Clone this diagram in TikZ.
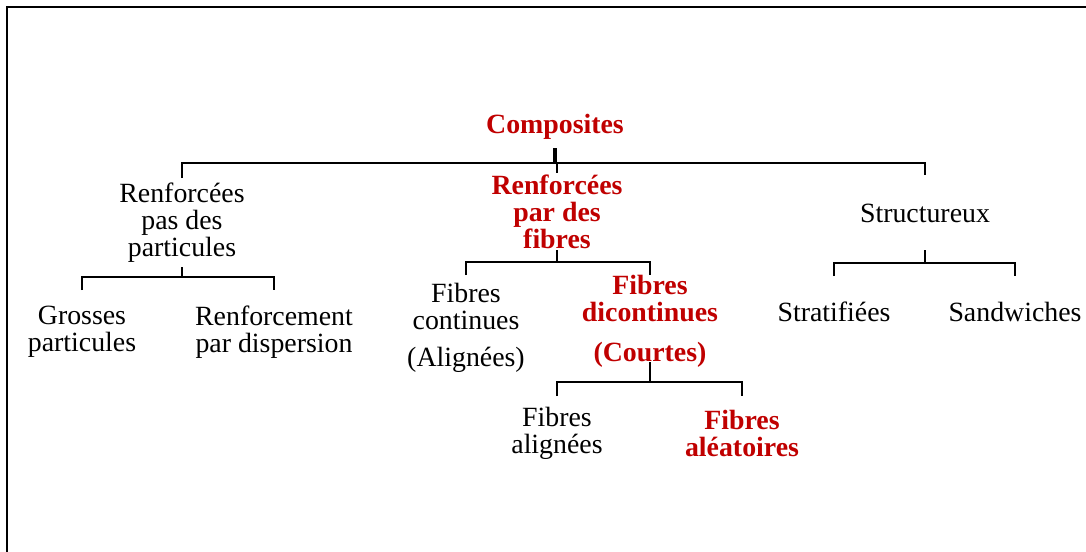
\documentclass[tikz,border=0pt]{standalone}
\usepackage{fontspec}
\setmainfont{Liberation Serif}
\usepackage{tikz}
\usetikzlibrary{positioning}
\definecolor{deepred}{RGB}{192,0,0}
\tikzset{
  item/.style={align=center,inner sep=0pt,font=\fontsize{19.8}{19.2}\selectfont},
  keyitem/.style={item,text=deepred,font=\fontsize{19.8}{19.2}\selectfont\bfseries},
  link/.style={draw=black,line width=1.4pt},
  stem/.style={draw=black,line width=2.6pt},
  frame/.style={draw=black,line width=1.6pt}
}

\begin{document}
\begin{tikzpicture}[x=0.025cm,y=-0.025cm]
  \useasboundingbox (0,0) rectangle (1086,552);
  \draw[frame] (7,552) -- (7,7) -- (1086,7);

  % first level
  \node[keyitem] (comp) at (555,127) {Composites};
  \node[item] (rpart) at (182,223) {Renforcées\\pas des\\particules};
  \node[keyitem] (rfib) at (557,212) {Renforcées\\par des\\fibres};
  \node[item] (struct) at (925,213) {Structureux};

  % particules
  \node[item] (gros) at (82,332) {Grosses\\particules};
  \node[item] (disp) at (274,332) {Renforcement\\par dispersion};

  % fibres
  \node[item] (fcont) at (466,328) {Fibres\\continues\\[7pt](Alignées)};
  \node[keyitem] (fdisc) at (650,321) {Fibres\\dicontinues\\[9pt](Courtes)};
  \node[item] (fali) at (557,433) {Fibres\\alignées};
  \node[keyitem] (falea) at (742,433) {Fibres\\aléatoires};

  % structures
  \node[item] (strat) at (834,312) {Stratifiées};
  \node[item] (sand) at (1015,312) {Sandwiches};

  % brackets
  \coordinate (b0) at (555,163);
  \draw[stem] (comp) ++(0,21) -- (b0);
  \draw[link] (rpart) ++(0,-45) |- (struct |- b0) -- ++(0,12);
  \draw[link] (rfib |- b0) -- ++(0,10);

  \coordinate (b1) at (182,277);
  \draw[link] (rpart) ++(0,44) -- (b1);
  \draw[link] (gros) ++(0,-42) |- (disp |- b1) -- ++(0,13);

  \coordinate (b2) at (557,262);
  \draw[link] (rfib) ++(0,38) -- (b2);
  \draw[link] (fcont) ++(0,-53) |- (fdisc |- b2) -- ++(0,13);

  \coordinate (b3) at (925,263);
  \draw[link] (struct) ++(0,37) -- (b3);
  \draw[link] (strat) ++(0,-36) |- (sand |- b3) -- ++(0,13);

  \coordinate (b4) at (650,382);
  \draw[link] (fdisc) ++(0,41) -- (b4);
  \draw[link] (fali) ++(0,-37) |- (falea |- b4) -- ++(0,14);
\end{tikzpicture}
\end{document}
